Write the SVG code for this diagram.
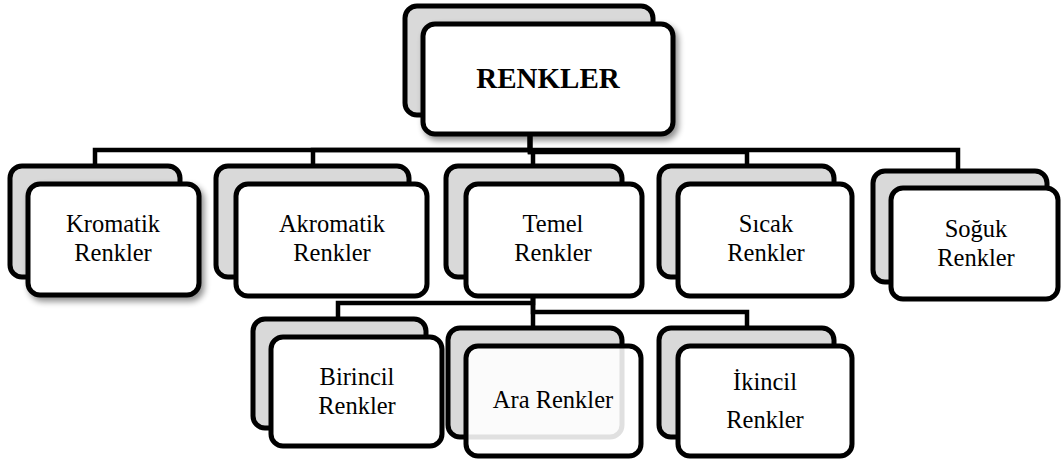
<svg xmlns="http://www.w3.org/2000/svg" width="1062" height="461" viewBox="0 0 1062 461">
<style>
.back{fill:#d9d9d9;stroke:#000;stroke-width:5}
.front{fill:#fff;stroke:#000;stroke-width:5}
.conn{fill:none;stroke:#000;stroke-width:4.5}
text{font-family:"Liberation Serif","Times New Roman",serif;font-size:24.5px;fill:#000;text-anchor:middle}
.title{font-weight:bold;font-size:29px}
</style>
<defs>
<filter id="sh" x="-20%" y="-20%" width="140%" height="150%">
<feGaussianBlur in="SourceAlpha" stdDeviation="3"/>
<feOffset dx="3" dy="4" result="b"/>
<feComponentTransfer><feFuncA type="linear" slope="0.45"/></feComponentTransfer>
<feMerge><feMergeNode/><feMergeNode in="SourceGraphic"/></feMerge>
</filter>
</defs>
<g id="connectors">
<path class="conn" d="M530,133 V150 H95 V166"/>
<path class="conn" d="M530,133 V150 H313 V166"/>
<path class="conn" d="M530,133 V152 H533 V166"/>
<path class="conn" d="M530,133 V152 H747 V166"/>
<path class="conn" d="M530,133 V150 H958 V171"/>
<path class="conn" d="M533,297 V303 H338 V319"/>
<path class="conn" d="M533,297 V328"/>
<path class="conn" d="M533,297 V312 H747 V328"/>
</g>
<g id="renkler">
<rect class="back" x="405" y="6" width="248" height="109" rx="12"/>
<rect class="front" x="423" y="24" width="250" height="110" rx="12" filter="url(#sh)"/>
<text class="title" x="548" y="88">RENKLER</text>
</g>
<g id="kromatik">
<rect class="back" x="10" y="166" width="170" height="111" rx="12"/>
<rect class="front" x="28" y="184" width="171" height="111" rx="12" filter="url(#sh)"/>
<text x="113" y="232">Kromatik</text>
<text x="113" y="261">Renkler</text>
</g>
<g id="akromatik">
<rect class="back" x="216" y="166" width="193" height="111" rx="12"/>
<rect class="front" x="236" y="184" width="191" height="112" rx="12"/>
<text x="332" y="232">Akromatik</text>
<text x="332" y="261">Renkler</text>
</g>
<g id="temel">
<rect class="back" x="446" y="166" width="176" height="111" rx="12"/>
<rect class="front" x="466" y="184" width="176" height="112" rx="12"/>
<text x="553" y="232">Temel</text>
<text x="553" y="261">Renkler</text>
</g>
<g id="sicak">
<rect class="back" x="659" y="166" width="175" height="111" rx="12"/>
<rect class="front" x="678" y="184" width="174" height="112" rx="12"/>
<text x="766" y="232">Sıcak</text>
<text x="766" y="261">Renkler</text>
</g>
<g id="soguk">
<rect class="back" x="873" y="171" width="174" height="111" rx="12"/>
<rect class="front" x="891" y="188" width="167" height="111" rx="12"/>
<text x="976" y="237">Soğuk</text>
<text x="976" y="266">Renkler</text>
</g>
<g id="birincil">
<rect class="back" x="253" y="319" width="173" height="109" rx="12"/>
<rect class="front" x="271" y="337" width="171" height="109" rx="12"/>
<text x="357" y="385">Birincil</text>
<text x="357" y="414">Renkler</text>
</g>
<g id="ara">
<rect class="back" x="448" y="328" width="174" height="109" rx="12"/>
<rect class="front" x="466" y="346" width="175" height="110" rx="12" style="fill-opacity:0.88"/>
<text x="553" y="408">Ara Renkler</text>
</g>
<g id="ikincil">
<rect class="back" x="659" y="328" width="175" height="109" rx="12"/>
<rect class="front" x="678" y="346" width="174" height="110" rx="12"/>
<text x="765" y="390">İkincil</text>
<text x="765" y="428">Renkler</text>
</g>
</svg>
